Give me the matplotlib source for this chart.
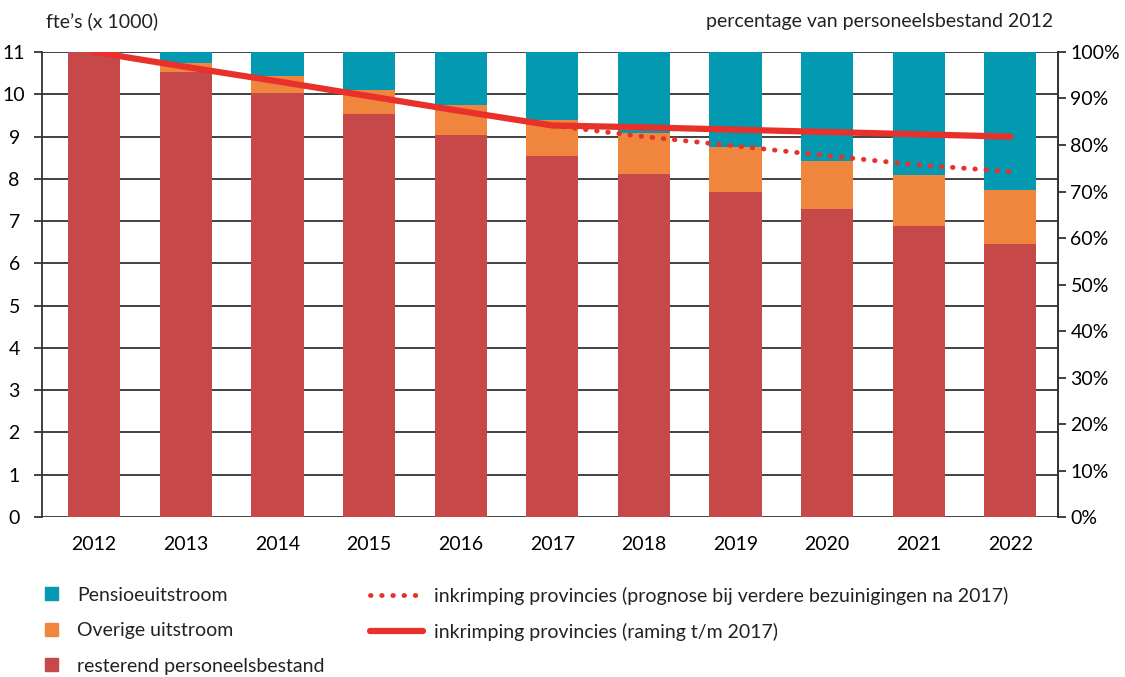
import numpy as np
import matplotlib.pyplot as plt
from matplotlib.patches import Patch
from matplotlib.lines import Line2D

# ── DATA ────────────────────────────────────────────────
years = ["2012", "2013", "2014", "2015", "2016", "2017",
         "2018", "2019", "2020", "2021", "2022"]
resterend = [11.0, 10.52, 10.02, 9.54, 9.04, 8.55, 8.11, 7.70, 7.29, 6.88, 6.46]
overige_top = [11.0, 10.74, 10.43, 10.10, 9.75, 9.39, 9.09, 8.75, 8.42, 8.09, 7.73]
totaal = [11.0] * 11
raming_pct = [100, 96.8, 93.7, 90.5, 87.3, 84.2, 83.8, 83.3, 82.8, 82.3, 81.8]
prognose_years = ["2017", "2018", "2019", "2020", "2021", "2022"]
prognose_pct = [84.2, 81.8, 79.8, 77.7, 75.7, 74.3]

overige = [t - r for t, r in zip(overige_top, resterend)]
pensioen = [t - o for t, o in zip(totaal, overige_top)]

# ── CONFIG ──────────────────────────────────────────────
C_TEAL = "#0399b0"
C_ORANGE = "#f0853d"
C_RED = "#c64849"
C_LINE = "#e8312b"
GRID = "#333333"
FS = 14
DOTS = (0, (0.1, 2.2))

plt.rcParams['font.family'] = ["Lato", "DejaVu Sans"]
plt.rcParams['text.color'] = "#222222"

fig = plt.figure(figsize=(11.25, 6.77), dpi=100)
ax = fig.add_axes([0.0373, 0.2363, 0.9031, 0.6869])

x = np.arange(len(years))
w = 0.57
ax.bar(x, resterend, w, color=C_RED, zorder=2)
ax.bar(x, overige, w, bottom=resterend, color=C_ORANGE, zorder=2)
ax.bar(x, pensioen, w, bottom=overige_top, color=C_TEAL, zorder=2)

ax.set_xlim(-0.57, 10.52)
ax.set_ylim(0, 11)
ax.set_yticks(range(0, 12))
ax.set_xticks(x)
ax.set_xticklabels(years)
ax.yaxis.grid(True, color=GRID, lw=1.3, zorder=1)
ax.set_axisbelow(True)
for s in ["top", "bottom"]:
    ax.spines[s].set_visible(False)
for s in ["left", "right"]:
    ax.spines[s].set_color(GRID)
    ax.spines[s].set_linewidth(1.3)
ax.tick_params(axis='y', direction='out', length=6, width=1.3, color=GRID,
               labelsize=FS, pad=14)
ax.tick_params(axis='x', length=0, labelsize=FS, pad=14)
for lbl in ax.get_yticklabels():
    lbl.set_horizontalalignment('center')

ax2 = ax.twinx()
ax2.set_ylim(0, 100)
ax2.set_yticks(range(0, 101, 10))
ax2.set_yticklabels([f"{v}%" for v in range(0, 101, 10)])
ax2.tick_params(axis='y', direction='out', length=6, width=1.3, color=GRID,
                labelsize=FS, pad=3)
for s in ["top", "bottom", "left"]:
    ax2.spines[s].set_visible(False)
ax2.spines["right"].set_color(GRID)
ax2.spines["right"].set_linewidth(1.3)

px = [years.index(y) for y in prognose_years]
ax2.plot(px, prognose_pct, color=C_LINE, lw=3.5, ls=DOTS,
         dash_capstyle='round', zorder=3)
ax2.plot(x, raming_pct, color=C_LINE, lw=4.5, solid_capstyle='round', zorder=4)

fig.text(0.041, 0.968, "fte\u2019s (x 1000)", fontsize=FS, va='center', ha='left')
fig.text(0.936, 0.968, "percentage van personeelsbestand 2012", fontsize=FS,
         va='center', ha='right')

# Legends
h1 = [Patch(color=C_TEAL), Patch(color=C_ORANGE), Patch(color=C_RED)]
l1 = ["Pensioeuitstroom", "Overige uitstroom", "resterend personeelsbestand"]
fig.legend(h1, l1, loc='upper left', bbox_to_anchor=(0.033, 0.145),
           frameon=False, fontsize=FS, handlelength=0.65, handleheight=0.65,
           handletextpad=1.0, labelspacing=0.95, borderaxespad=0)
h2 = [Line2D([], [], color=C_LINE, lw=3.5, ls=DOTS, dash_capstyle='round'),
      Line2D([], [], color=C_LINE, lw=4.5, solid_capstyle='round')]
l2 = ["inkrimping provincies (prognose bij verdere bezuinigingen na 2017)",
      "inkrimping provincies (raming t/m 2017)"]
fig.legend(h2, l2, loc='upper left', bbox_to_anchor=(0.322, 0.145),
           frameon=False, fontsize=FS, handlelength=2.7,
           handletextpad=0.6, labelspacing=0.95, borderaxespad=0)

fig.savefig("out.png", dpi=100)
